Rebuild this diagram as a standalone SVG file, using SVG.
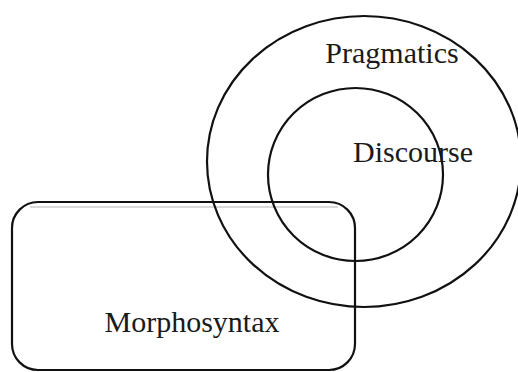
<svg xmlns="http://www.w3.org/2000/svg" width="518" height="372" viewBox="0 0 518 372">
<style>
.shape{fill:none;stroke:#111;stroke-width:2.2}
.lbl{font-family:"Liberation Serif","Times New Roman",serif;font-size:30px;fill:#1a1a1a}
</style>
<rect width="518" height="372" fill="#fff"/>
<g id="morphosyntax">
<line x1="30" y1="207" x2="338" y2="207" stroke="#ccc" stroke-width="1.5"/>
<rect class="shape" x="12" y="202" width="343" height="168" rx="26" ry="26"/>
<text class="lbl" x="192" y="332" text-anchor="middle">Morphosyntax</text>
</g>
<g id="pragmatics">
<ellipse class="shape" cx="364" cy="161.5" rx="157" ry="145.5"/>
<text class="lbl" x="392" y="63" text-anchor="middle">Pragmatics</text>
</g>
<g id="discourse">
<ellipse class="shape" cx="355.5" cy="174.5" rx="87.5" ry="86.5"/>
<text class="lbl" x="413" y="162" text-anchor="middle">Discourse</text>
</g>
<g id="connectors"/>
</svg>
